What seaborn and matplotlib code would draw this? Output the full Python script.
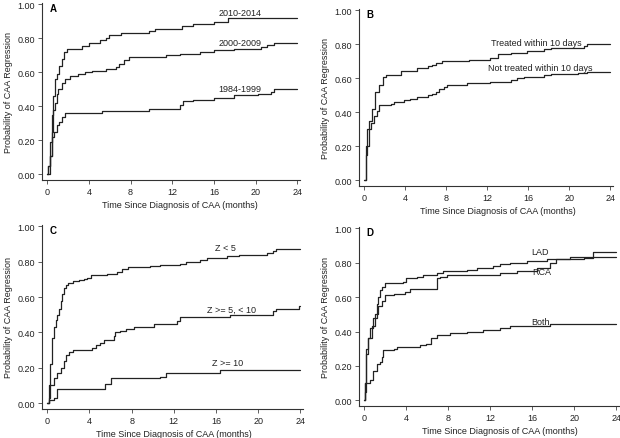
import matplotlib
matplotlib.use("Agg")
import matplotlib.pyplot as plt
import seaborn as sns

sns.set_theme(style="ticks")
plt.rcParams['font.family'] = ['Liberation Sans', 'DejaVu Sans']
plt.rcParams['font.size'] = 6

# Panel A - era of diagnosis
a_2010_t = [0, 0.26, 0.42, 0.58, 0.74, 0.9, 1.13, 1.39, 1.65, 1.88, 3.3, 4.0, 5.1, 5.6, 5.9, 7.05, 9.8, 10.3, 12.9, 14.0, 16.0, 17.3, 24]
a_2010_p = [0, 0.19, 0.35, 0.46, 0.56, 0.59, 0.64, 0.68, 0.72, 0.74, 0.755, 0.775, 0.79, 0.80, 0.82, 0.83, 0.845, 0.855, 0.87, 0.885, 0.895, 0.92, 0.92]
a_2000_t = [0, 0.1, 0.26, 0.42, 0.58, 0.74, 0.9, 1.07, 1.39, 1.72, 2.2, 3.0, 3.66, 4.3, 5.6, 6.57, 6.9, 7.38, 7.86, 11.4, 12.7, 14.7, 16.0, 17.9, 20.5, 21.1, 21.8, 24]
a_2000_p = [0, 0.05, 0.11, 0.25, 0.38, 0.42, 0.47, 0.50, 0.54, 0.56, 0.58, 0.59, 0.60, 0.61, 0.62, 0.63, 0.65, 0.67, 0.69, 0.70, 0.71, 0.72, 0.73, 0.74, 0.75, 0.76, 0.77, 0.77]
a_1984_t = [0, 0.1, 0.26, 0.42, 0.68, 0.9, 1.13, 1.39, 1.72, 5.3, 9.8, 12.7, 13.0, 14.0, 16.0, 17.9, 20.2, 21.5, 21.8, 24]
a_1984_p = [0, 0.05, 0.11, 0.22, 0.25, 0.29, 0.31, 0.34, 0.36, 0.375, 0.385, 0.41, 0.43, 0.44, 0.45, 0.465, 0.475, 0.485, 0.50, 0.50]

# Panel B - timing of treatment
b_yes_t = [0, 0.16, 0.5, 0.8, 1.1, 1.45, 1.8, 2.1, 3.6, 5.2, 6.2, 6.6, 7.0, 7.6, 10.2, 12.3, 13.0, 14.3, 15.9, 17.5, 18.2, 21.4, 21.7, 24]
b_yes_p = [0, 0.2, 0.35, 0.42, 0.52, 0.56, 0.61, 0.62, 0.645, 0.66, 0.67, 0.68, 0.69, 0.70, 0.71, 0.72, 0.745, 0.75, 0.76, 0.77, 0.78, 0.79, 0.80, 0.80]
b_no_t = [0, 0.16, 0.3, 0.65, 1.0, 1.3, 1.45, 2.6, 2.9, 3.9, 4.5, 5.2, 6.2, 6.6, 7.0, 7.3, 7.8, 8.1, 10.0, 10.4, 12.3, 14.3, 14.9, 15.6, 17.5, 18.2, 20.8, 21.7, 24]
b_no_p = [0, 0.15, 0.3, 0.34, 0.38, 0.41, 0.445, 0.45, 0.46, 0.47, 0.48, 0.49, 0.50, 0.51, 0.52, 0.54, 0.55, 0.56, 0.57, 0.575, 0.58, 0.59, 0.60, 0.61, 0.62, 0.625, 0.63, 0.64, 0.64]

# Panel C - Z score
c_lt5_t = [0, 0.15, 0.3, 0.47, 0.63, 0.8, 0.95, 1.1, 1.26, 1.4, 1.57, 1.73, 2.0, 2.4, 3.0, 3.5, 3.8, 4.1, 5.7, 6.6, 7.1, 7.7, 9.75, 10.7, 12.6, 13.2, 14.5, 15.1, 17.0, 18.2, 20.8, 21.4, 21.7, 24]
c_lt5_p = [0, 0.1, 0.22, 0.37, 0.43, 0.47, 0.5, 0.53, 0.58, 0.62, 0.65, 0.67, 0.68, 0.69, 0.695, 0.70, 0.71, 0.725, 0.73, 0.74, 0.76, 0.77, 0.775, 0.78, 0.79, 0.80, 0.81, 0.82, 0.83, 0.84, 0.85, 0.86, 0.87, 0.87]
c_mid_t = [0, 0.15, 0.3, 0.6, 0.95, 1.26, 1.57, 1.73, 2.05, 2.4, 4.2, 4.6, 5.0, 5.35, 6.3, 6.45, 6.9, 7.5, 8.2, 10.1, 12.3, 12.6, 17.3, 21.4, 21.7, 23.9, 24]
c_mid_p = [0, 0.03, 0.1, 0.14, 0.17, 0.2, 0.24, 0.27, 0.29, 0.30, 0.31, 0.33, 0.34, 0.355, 0.38, 0.40, 0.41, 0.42, 0.43, 0.45, 0.465, 0.485, 0.50, 0.52, 0.53, 0.55, 0.55]
c_ge10_t = [0, 0.15, 0.6, 0.95, 5.5, 6.0, 10.7, 11.3, 16.4, 24]
c_ge10_p = [0, 0.02, 0.03, 0.08, 0.11, 0.14, 0.15, 0.17, 0.19, 0.19]

# Panel D - artery involved
d_lad_t = [0, 0.06, 0.2, 0.4, 0.55, 0.85, 1.2, 1.35, 1.5, 1.65, 2.0, 3.7, 4.0, 5.0, 5.6, 6.9, 7.5, 9.8, 10.7, 12.3, 12.9, 13.9, 15.5, 17.4, 20.9, 21.8, 24]
d_lad_p = [0, 0.1, 0.27, 0.36, 0.42, 0.48, 0.56, 0.6, 0.64, 0.66, 0.685, 0.69, 0.71, 0.72, 0.73, 0.74, 0.75, 0.76, 0.77, 0.78, 0.79, 0.80, 0.81, 0.82, 0.83, 0.865, 0.865]
d_rca_t = [0, 0.06, 0.2, 0.4, 0.7, 1.0, 1.35, 1.65, 2.0, 2.8, 3.9, 4.35, 5.3, 6.9, 7.2, 7.85, 12.9, 14.5, 16.4, 17.7, 18.3, 19.6, 24]
d_rca_p = [0, 0.1, 0.3, 0.36, 0.43, 0.5, 0.55, 0.58, 0.61, 0.62, 0.63, 0.645, 0.65, 0.71, 0.72, 0.73, 0.74, 0.75, 0.77, 0.80, 0.82, 0.835, 0.835]
d_both_t = [0, 0.06, 0.2, 0.55, 0.85, 1.2, 1.5, 1.65, 1.8, 2.8, 3.1, 5.3, 5.9, 6.4, 6.9, 8.2, 9.8, 11.3, 12.9, 13.9, 17.7, 24]
d_both_p = [0, 0.05, 0.1, 0.12, 0.17, 0.21, 0.22, 0.25, 0.29, 0.30, 0.31, 0.32, 0.33, 0.36, 0.38, 0.39, 0.40, 0.41, 0.42, 0.43, 0.445, 0.445]

panels = [
    ('A', [(a_2010_t, a_2010_p, '2010-2014', 18.5, 0.95),
           (a_2000_t, a_2000_p, '2000-2009', 18.5, 0.775),
           (a_1984_t, a_1984_p, '1984-1999', 18.5, 0.505)]),
    ('B', [(b_yes_t, b_yes_p, 'Treated within 10 days', 16.8, 0.81),
           (b_no_t, b_no_p, 'Not treated within 10 days', 17.2, 0.665)]),
    ('C', [(c_lt5_t, c_lt5_p, 'Z < 5', 16.9, 0.88),
           (c_mid_t, c_mid_p, 'Z >= 5, < 10', 17.5, 0.53),
           (c_ge10_t, c_ge10_p, 'Z >= 10', 17.1, 0.23)]),
    ('D', [(d_lad_t, d_lad_p, 'LAD', 16.75, 0.865),
           (d_rca_t, d_rca_p, 'RCA', 16.85, 0.75),
           (d_both_t, d_both_p, 'Both', 16.75, 0.46)]),
]

# axes boxes in pixels: left, right, top, bottom
boxes = [(42, 300, 4, 181), (359, 613, 10, 187), (42, 303, 226, 410), (359, 619, 228, 407)]
xlabel_pos = [0.535, 0.547, 0.504, 0.542]

W, H = 620, 439
fig = plt.figure(figsize=(6.2, 4.39), dpi=100)
ink = '#222222'

for (letter, curves), (l, r, t, b), xl in zip(panels, boxes, xlabel_pos):
    ax = fig.add_axes([l / W, (H - b) / H, (r - l) / W, (b - t) / H])
    for tt, pp, lab, lx, ly in curves:
        sns.lineplot(x=tt, y=pp, ax=ax, color=ink, lw=0.9, drawstyle='steps-post',
                     estimator=None, sort=False)
        ax.text(lx, ly, lab, ha='center', va='center', fontsize=6.5, color=ink)
    ax.set_xlim(-0.5, 24.25)
    ax.set_ylim(-0.033, 1.008)
    ax.set_xticks(range(0, 25, 4))
    ax.set_yticks([0, 0.2, 0.4, 0.6, 0.8, 1.0])
    ax.set_yticklabels([f'{v:.2f}' for v in [0, 0.2, 0.4, 0.6, 0.8, 1.0]])
    ax.tick_params(labelsize=6.5, length=3, width=0.6, color='#444444', labelcolor=ink, pad=2)
    ax.set_xlabel('Time Since Diagnosis of CAA (months)', fontsize=6.5, color=ink,
                  labelpad=3, x=xl, ha='center')
    ax.set_ylabel('Probability of CAA Regression', fontsize=6.5, color=ink, labelpad=3)
    ax.text(0.03, 1.0, letter, transform=ax.transAxes, ha='left', va='top',
            fontsize=7, fontweight='bold', color='black')
    sns.despine(ax=ax)
    for s in ['left', 'bottom']:
        ax.spines[s].set_linewidth(0.8)
        ax.spines[s].set_color('#333333')

fig.savefig('out.png', dpi=100)
